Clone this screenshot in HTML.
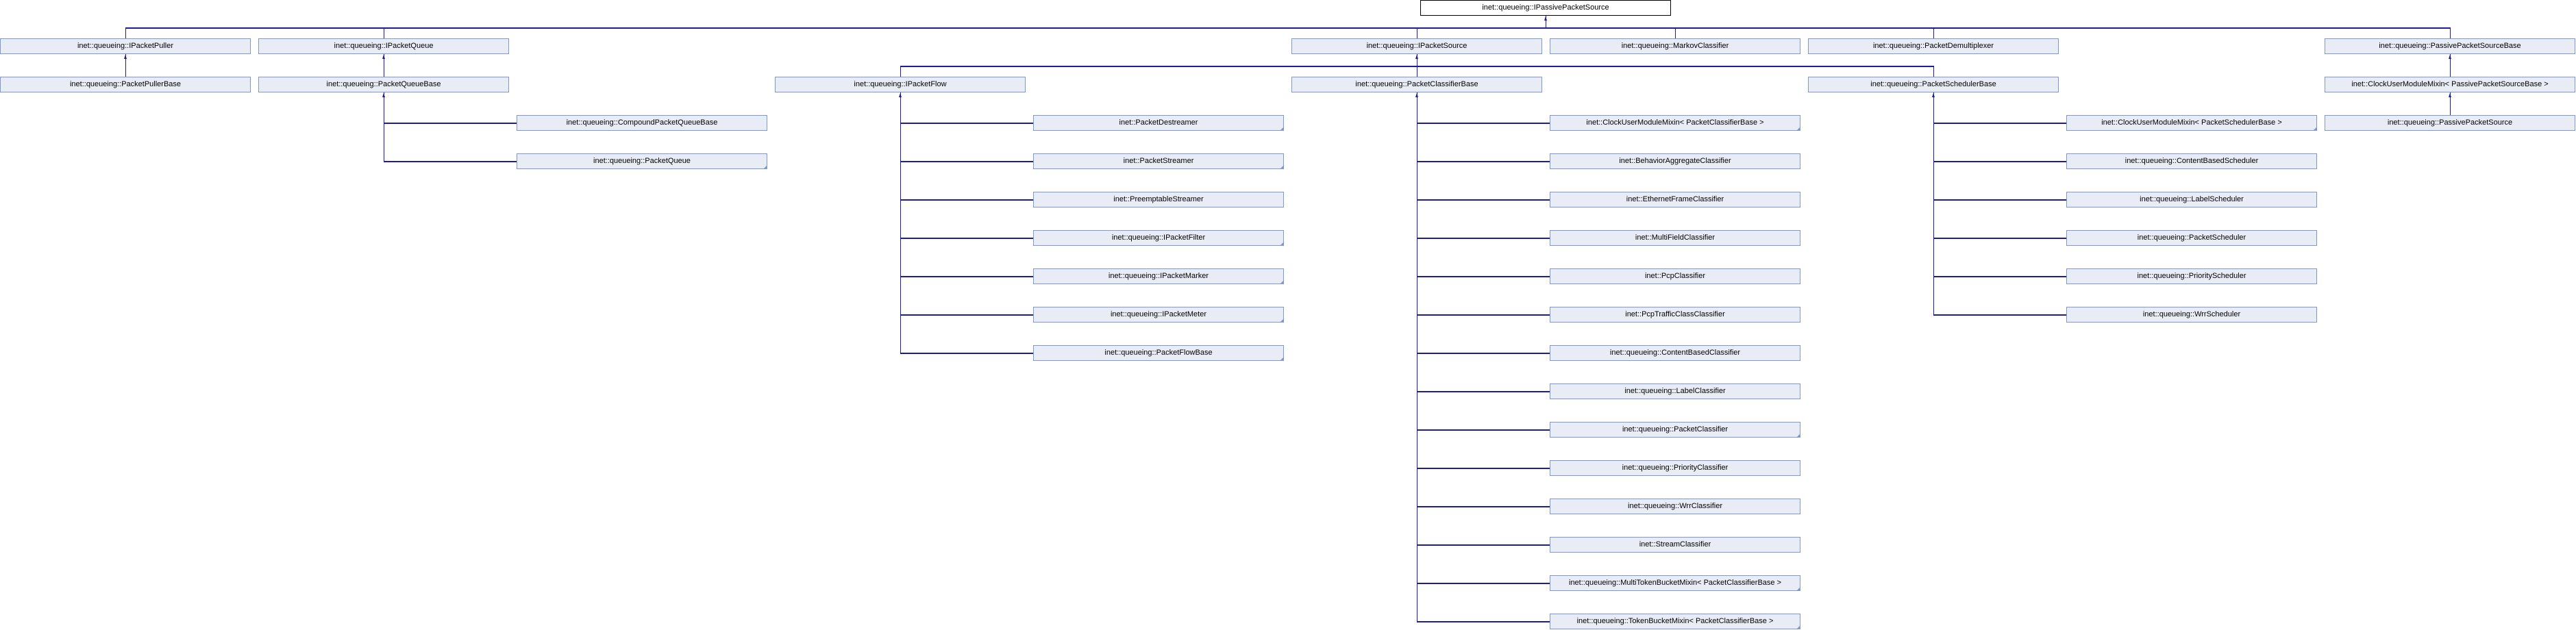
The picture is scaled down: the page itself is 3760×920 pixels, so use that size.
<!DOCTYPE html>
<html><head><meta charset="utf-8"><style>
html,body{margin:0;padding:0;background:#fff;width:3760px;height:920px;overflow:hidden;position:relative}
.b{position:absolute;width:364px;height:21px;border:1px solid #8098cf;background:#e8ecf5;font:11px "Liberation Sans",sans-serif;color:#000;text-align:center;line-height:21px;white-space:nowrap;box-sizing:content-box}
.r{background:#fff;border-color:#000}
.c::after{content:"";position:absolute;right:0;bottom:0;width:0;height:0;border-left:4px solid transparent;border-bottom:4px solid #8098cf}
.v{position:absolute;width:1px;background:#1c1c9c}
.h{position:absolute;height:2px;background:#1c1c9c}
.a{position:absolute;width:0;height:0;border-left:2px solid transparent;border-right:2px solid transparent;border-bottom:6px solid #1c1c9c}
</style></head><body>
<!-- lines -->
<div class="v" style="left:2256px;top:23px;height:18px"></div><div class="a" style="left:2254px;top:24px"></div>
<div class="h" style="left:183px;top:40px;width:3394px"></div>
<div class="v" style="left:183px;top:40px;height:16px"></div>
<div class="v" style="left:560px;top:40px;height:16px"></div>
<div class="v" style="left:2068px;top:40px;height:16px"></div>
<div class="v" style="left:2445px;top:40px;height:16px"></div>
<div class="v" style="left:2822px;top:40px;height:16px"></div>
<div class="v" style="left:3576px;top:40px;height:16px"></div>

<div class="v" style="left:183px;top:79px;height:33px"></div><div class="a" style="left:181px;top:80px"></div>
<div class="v" style="left:560px;top:79px;height:33px"></div><div class="a" style="left:558px;top:80px"></div>
<div class="v" style="left:3576px;top:79px;height:33px"></div><div class="a" style="left:3574px;top:80px"></div>
<div class="v" style="left:3576px;top:135px;height:33px"></div><div class="a" style="left:3574px;top:136px"></div>
<div class="v" style="left:2068px;top:79px;height:33px"></div><div class="a" style="left:2066px;top:80px"></div>
<div class="h" style="left:1314px;top:96px;width:1509px"></div>
<div class="v" style="left:1314px;top:96px;height:16px"></div>
<div class="v" style="left:2822px;top:96px;height:16px"></div>

<div class="v" style="left:560px;top:135px;height:101px"></div><div class="a" style="left:558px;top:136px"></div>
<div class="h" style="left:560px;top:179px;width:194px"></div>
<div class="h" style="left:560px;top:235px;width:194px"></div>

<div class="v" style="left:1314px;top:135px;height:381px"></div><div class="a" style="left:1312px;top:136px"></div>
<div class="h" style="left:1314px;top:179px;width:194px"></div>
<div class="h" style="left:1314px;top:235px;width:194px"></div>
<div class="h" style="left:1314px;top:291px;width:194px"></div>
<div class="h" style="left:1314px;top:347px;width:194px"></div>
<div class="h" style="left:1314px;top:403px;width:194px"></div>
<div class="h" style="left:1314px;top:459px;width:194px"></div>
<div class="h" style="left:1314px;top:515px;width:194px"></div>

<div class="v" style="left:2068px;top:135px;height:773px"></div><div class="a" style="left:2066px;top:136px"></div>
<div class="h" style="left:2068px;top:179px;width:194px"></div>
<div class="h" style="left:2068px;top:235px;width:194px"></div>
<div class="h" style="left:2068px;top:291px;width:194px"></div>
<div class="h" style="left:2068px;top:347px;width:194px"></div>
<div class="h" style="left:2068px;top:403px;width:194px"></div>
<div class="h" style="left:2068px;top:459px;width:194px"></div>
<div class="h" style="left:2068px;top:515px;width:194px"></div>
<div class="h" style="left:2068px;top:571px;width:194px"></div>
<div class="h" style="left:2068px;top:627px;width:194px"></div>
<div class="h" style="left:2068px;top:683px;width:194px"></div>
<div class="h" style="left:2068px;top:739px;width:194px"></div>
<div class="h" style="left:2068px;top:795px;width:194px"></div>
<div class="h" style="left:2068px;top:851px;width:194px"></div>
<div class="h" style="left:2068px;top:907px;width:194px"></div>

<div class="v" style="left:2822px;top:135px;height:325px"></div><div class="a" style="left:2820px;top:136px"></div>
<div class="h" style="left:2822px;top:179px;width:194px"></div>
<div class="h" style="left:2822px;top:235px;width:194px"></div>
<div class="h" style="left:2822px;top:291px;width:194px"></div>
<div class="h" style="left:2822px;top:347px;width:194px"></div>
<div class="h" style="left:2822px;top:403px;width:194px"></div>
<div class="h" style="left:2822px;top:459px;width:194px"></div>

<!-- boxes -->
<div class="b r" style="left:2073px;top:0px">inet::queueing::IPassivePacketSource</div>

<div class="b" style="left:0px;top:56px">inet::queueing::IPacketPuller</div>
<div class="b" style="left:377px;top:56px">inet::queueing::IPacketQueue</div>
<div class="b" style="left:1885px;top:56px">inet::queueing::IPacketSource</div>
<div class="b" style="left:2262px;top:56px">inet::queueing::MarkovClassifier</div>
<div class="b" style="left:2639px;top:56px">inet::queueing::PacketDemultiplexer</div>
<div class="b" style="left:3393px;top:56px">inet::queueing::PassivePacketSourceBase</div>

<div class="b" style="left:0px;top:112px">inet::queueing::PacketPullerBase</div>
<div class="b" style="left:377px;top:112px">inet::queueing::PacketQueueBase</div>
<div class="b" style="left:1131px;top:112px">inet::queueing::IPacketFlow</div>
<div class="b" style="left:1885px;top:112px">inet::queueing::PacketClassifierBase</div>
<div class="b" style="left:2639px;top:112px">inet::queueing::PacketSchedulerBase</div>
<div class="b" style="left:3393px;top:112px">inet::ClockUserModuleMixin&lt; PassivePacketSourceBase &gt;</div>

<div class="b" style="left:754px;top:168px">inet::queueing::CompoundPacketQueueBase</div>
<div class="b c" style="left:754px;top:224px">inet::queueing::PacketQueue</div>

<div class="b c" style="left:1508px;top:168px">inet::PacketDestreamer</div>
<div class="b c" style="left:1508px;top:224px">inet::PacketStreamer</div>
<div class="b" style="left:1508px;top:280px">inet::PreemptableStreamer</div>
<div class="b c" style="left:1508px;top:336px">inet::queueing::IPacketFilter</div>
<div class="b c" style="left:1508px;top:392px">inet::queueing::IPacketMarker</div>
<div class="b c" style="left:1508px;top:448px">inet::queueing::IPacketMeter</div>
<div class="b c" style="left:1508px;top:504px">inet::queueing::PacketFlowBase</div>

<div class="b c" style="left:2262px;top:168px">inet::ClockUserModuleMixin&lt; PacketClassifierBase &gt;</div>
<div class="b" style="left:2262px;top:224px">inet::BehaviorAggregateClassifier</div>
<div class="b" style="left:2262px;top:280px">inet::EthernetFrameClassifier</div>
<div class="b" style="left:2262px;top:336px">inet::MultiFieldClassifier</div>
<div class="b" style="left:2262px;top:392px">inet::PcpClassifier</div>
<div class="b" style="left:2262px;top:448px">inet::PcpTrafficClassClassifier</div>
<div class="b" style="left:2262px;top:504px">inet::queueing::ContentBasedClassifier</div>
<div class="b" style="left:2262px;top:560px">inet::queueing::LabelClassifier</div>
<div class="b c" style="left:2262px;top:616px">inet::queueing::PacketClassifier</div>
<div class="b" style="left:2262px;top:672px">inet::queueing::PriorityClassifier</div>
<div class="b" style="left:2262px;top:728px">inet::queueing::WrrClassifier</div>
<div class="b" style="left:2262px;top:784px">inet::StreamClassifier</div>
<div class="b c" style="left:2262px;top:840px">inet::queueing::MultiTokenBucketMixin&lt; PacketClassifierBase &gt;</div>
<div class="b c" style="left:2262px;top:896px">inet::queueing::TokenBucketMixin&lt; PacketClassifierBase &gt;</div>

<div class="b c" style="left:3016px;top:168px">inet::ClockUserModuleMixin&lt; PacketSchedulerBase &gt;</div>
<div class="b" style="left:3016px;top:224px">inet::queueing::ContentBasedScheduler</div>
<div class="b" style="left:3016px;top:280px">inet::queueing::LabelScheduler</div>
<div class="b" style="left:3016px;top:336px">inet::queueing::PacketScheduler</div>
<div class="b" style="left:3016px;top:392px">inet::queueing::PriorityScheduler</div>
<div class="b" style="left:3016px;top:448px">inet::queueing::WrrScheduler</div>

<div class="b" style="left:3393px;top:168px">inet::queueing::PassivePacketSource</div>
</body></html>
